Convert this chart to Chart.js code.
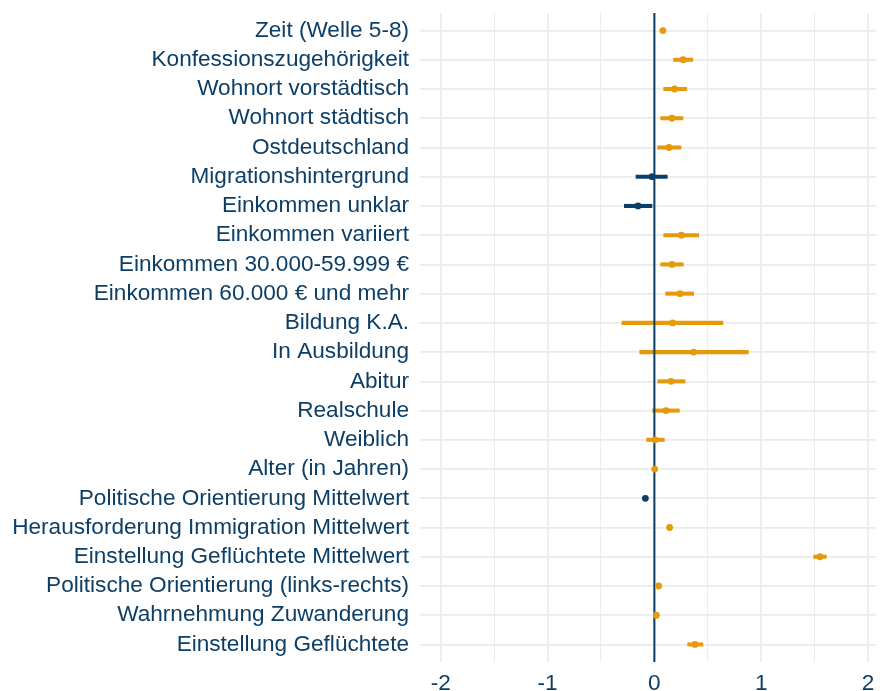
<!DOCTYPE html>
<html>
<head>
<meta charset="utf-8">
<script src="https://cdn.jsdelivr.net/npm/chart.js@4"></script>
<style>
  html, body { margin: 0; padding: 0; background: #ffffff; }
  #wrap { width: 880px; height: 691px; }
</style>
</head>
<body>
<div id="wrap"><canvas id="coefChart" width="880" height="691"></canvas></div>
<script>
// Data

const labels = [
    "Zeit (Welle 5-8)",
    "Konfessionszugehörigkeit",
    "Wohnort vorstädtisch",
    "Wohnort städtisch",
    "Ostdeutschland",
    "Migrationshintergrund",
    "Einkommen unklar",
    "Einkommen variiert",
    "Einkommen 30.000-59.999 €",
    "Einkommen 60.000 € und mehr",
    "Bildung K.A.",
    "In Ausbildung",
    "Abitur",
    "Realschule",
    "Weiblich",
    "Alter (in Jahren)",
    "Politische Orientierung Mittelwert",
    "Herausforderung Immigration Mittelwert",
    "Einstellung Geflüchtete Mittelwert",
    "Politische Orientierung (links-rechts)",
    "Wahrnehmung Zuwanderung",
    "Einstellung Geflüchtete"
];

const estimates = [0.08, 0.27, 0.19, 0.165, 0.137, -0.022, -0.153, 0.253, 0.165, 0.24, 0.171, 0.368,
    0.156, 0.109, 0.006, 0.003, -0.084, 0.143, 1.551, 0.04, 0.019, 0.38];
const lower = [0.075, 0.18, 0.087, 0.059, 0.031, -0.172, -0.281, 0.087, 0.059, 0.106, -0.303, -0.137,
    0.031, -0.016, -0.072, 0.0, -0.09, 0.138, 1.492, 0.035, 0.014, 0.312];
const upper = [0.085, 0.36, 0.303, 0.268, 0.249, 0.121, -0.022, 0.415, 0.271, 0.368, 0.642, 0.88,
    0.287, 0.234, 0.094, 0.006, -0.078, 0.148, 1.61, 0.045, 0.024, 0.455];

const xTicks = [-2, -1, 0, 1, 2];
const zeroLine = 0;

const NAVY = "#0d3f66";
const ORANGE = "#e69a0b";
const GRID = "#ebebeb";

const colors = estimates.map(v => v < 0 ? NAVY : ORANGE);

// Chart

const ctx = document.getElementById("coefChart");

const coefChart = new Chart(ctx, {
    type: "scatter",
    data: {
        datasets: [
            {
                type: "line",
                data: [{ x: zeroLine, y: -0.6 }, { x: zeroLine, y: labels.length - 0.4 }],
                borderColor: NAVY,
                borderWidth: 2,
                pointRadius: 0,
                order: 2
            },
            {
                type: "bar",
                indexAxis: "y",
                data: labels.map((l, i) => ({ y: i, x: [lower[i], upper[i]] })),
                backgroundColor: colors,
                barThickness: 3.4,
                order: 3
            },
            {
                type: "scatter",
                data: labels.map((l, i) => ({ x: estimates[i], y: i })),
                backgroundColor: colors,
                borderWidth: 0,
                pointRadius: 3.4,
                order: 1
            }
        ]
    },
    options: {
        responsive: false,
        animation: false,
        layout: { padding: { top: 13, right: 0, left: 0, bottom: 0 } },
        plugins: {
            legend: { display: false },
            tooltip: { enabled: false }
        },
        scales: {
            x: {
                type: "linear",
                min: -2.194,
                max: 2.075,
                offset: false,
                border: { display: false },
                afterBuildTicks: s => {
                    s.ticks = [];
                    for (let v = -2; v <= 2; v += 0.5) s.ticks.push({ value: v });
                },
                afterFit: s => {
                    s.height = 29;
                    s.paddingLeft = 0;
                    s.paddingRight = 0;
                },
                grid: {
                    offset: false,
                    drawTicks: false,
                    color: GRID,
                    lineWidth: c => Number.isInteger(c.tick.value) ? 1.7 : 0.9
                },
                ticks: {
                    padding: 8,
                    color: NAVY,
                    font: { family: "Liberation Sans", size: 22.6 },
                    maxRotation: 0,
                    autoSkip: false,
                    callback: v => xTicks.includes(v) ? String(v) : ""
                }
            },
            y: {
                type: "linear",
                reverse: true,
                offset: false,
                min: -0.6,
                max: labels.length - 0.4,
                border: { display: false },
                afterBuildTicks: s => {
                    s.ticks = labels.map((l, i) => ({ value: i }));
                },
                afterFit: s => {
                    s.width = 420;
                    s.paddingTop = 0;
                    s.paddingBottom = 0;
                },
                grid: {
                    offset: false,
                    drawTicks: false,
                    color: GRID,
                    lineWidth: 1.7
                },
                ticks: {
                    padding: 11,
                    color: NAVY,
                    font: { family: "Liberation Sans", size: 22.6 },
                    autoSkip: false,
                    callback: v => labels[v]
                }
            }
        }
    }
});
</script>
</body>
</html>
